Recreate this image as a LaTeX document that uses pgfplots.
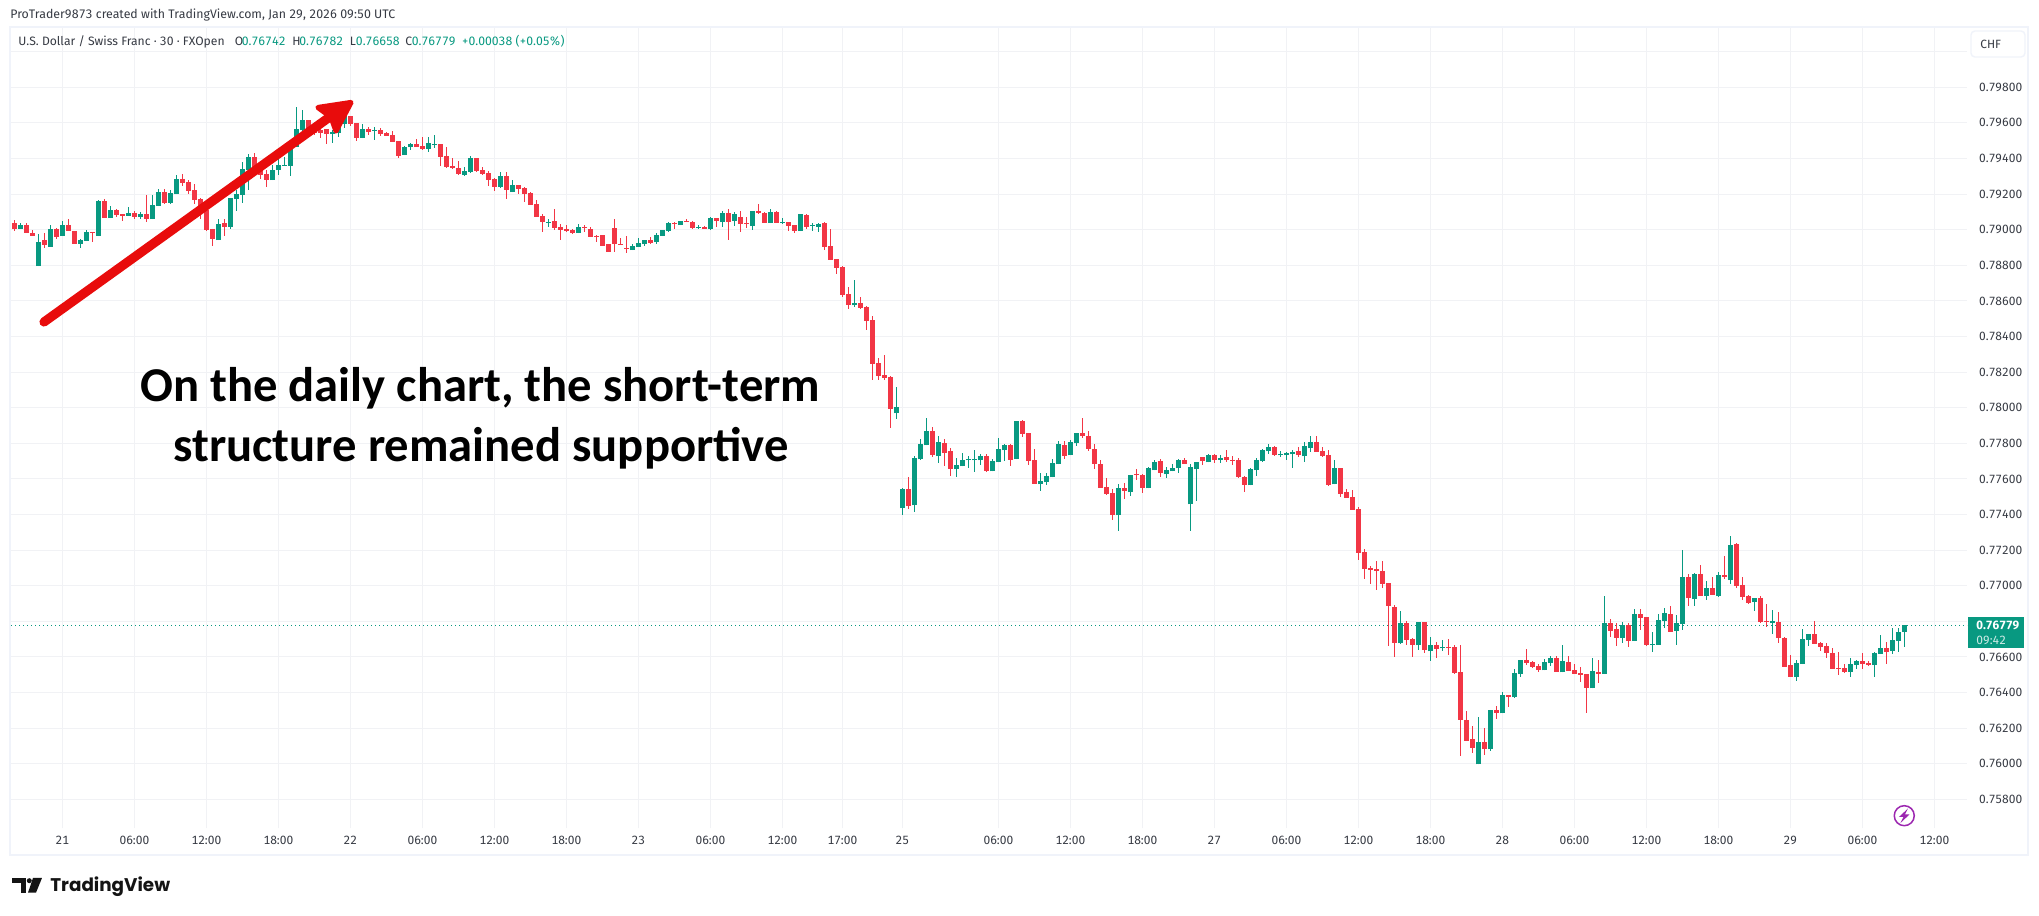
\documentclass[border=0pt]{standalone}
\usepackage{fontspec}
\usepackage{pgfplots}
\usepackage{pgfplotstable}
\pgfplotsset{compat=1.18}
\setmainfont{Fira Sans}[Numbers=Tabular]
\newfontfamily\titlefont{Carlito}
\newfontfamily\logofont{Poppins}
\definecolor{cup}{HTML}{089981}
\definecolor{cdn}{HTML}{F23645}
\definecolor{cgrid}{HTML}{F1F2F5}
\definecolor{cframe}{HTML}{F0F3FA}
\definecolor{ctext}{HTML}{131722}
\pgfplotstableread{
k o h l c
-8 0.79037 0.79054 0.78992 0.79004
-7 0.79004 0.79037 0.79004 0.79026
-6 0.79026 0.79037 0.78981 0.78981
-5 0.78981 0.78998 0.78964 0.78964
-4 0.78796 0.78976 0.78796 0.78931
-3 0.78942 0.78981 0.78897 0.78914
-2 0.78903 0.79026 0.78903 0.79004
-1 0.79004 0.79009 0.78948 0.78959
0 0.78964 0.79049 0.78964 0.79026
1 0.79026 0.79060 0.78992 0.78992
2 0.78992 0.78992 0.78919 0.78919
3 0.78919 0.78948 0.78897 0.78942
4 0.78936 0.78998 0.78936 0.78987
5 0.78987 0.78987 0.78931 0.78981
6 0.78964 0.79167 0.78964 0.79161
7 0.79161 0.79172 0.79065 0.79065
8 0.79065 0.79133 0.79065 0.79110
9 0.79110 0.79116 0.79071 0.79082
10 0.79088 0.79088 0.79049 0.79077
11 0.79077 0.79127 0.79077 0.79094
12 0.79094 0.79105 0.79060 0.79071
13 0.79071 0.79099 0.79060 0.79088
14 0.79088 0.79195 0.79043 0.79060
15 0.79060 0.79195 0.79060 0.79139
16 0.79133 0.79228 0.79133 0.79212
17 0.79212 0.79228 0.79144 0.79150
18 0.79150 0.79223 0.79144 0.79206
19 0.79200 0.79307 0.79200 0.79285
20 0.79285 0.79313 0.79245 0.79262
21 0.79268 0.79279 0.79200 0.79217
22 0.79223 0.79257 0.79144 0.79167
23 0.79172 0.79178 0.79060 0.79092
24 0.79110 0.79110 0.78992 0.78998
25 0.79004 0.79004 0.78908 0.78948
26 0.78942 0.79060 0.78942 0.79032
27 0.79037 0.79060 0.78964 0.79015
28 0.79015 0.79178 0.79004 0.79178
29 0.79172 0.79223 0.79105 0.79200
30 0.79195 0.79380 0.79150 0.79341
31 0.79335 0.79425 0.79223 0.79408
32 0.79408 0.79431 0.79316 0.79345
33 0.79345 0.79373 0.79285 0.79307
34 0.79313 0.79335 0.79240 0.79279
35 0.79279 0.79363 0.79279 0.79335
36 0.79335 0.79410 0.79307 0.79363
37 0.79358 0.79408 0.79358 0.79363
38 0.79358 0.79485 0.79301 0.79457
39 0.79466 0.79689 0.79466 0.79563
40 0.79560 0.79672 0.79541 0.79619
41 0.79616 0.79619 0.79541 0.79545
42 0.79569 0.79578 0.79531 0.79541
43 0.79560 0.79569 0.79515 0.79541
44 0.79563 0.79563 0.79481 0.79537
45 0.79537 0.79560 0.79486 0.79548
46 0.79545 0.79588 0.79522 0.79588
47 0.79593 0.79653 0.79569 0.79638
48 0.79638 0.79638 0.79582 0.79593
49 0.79599 0.79599 0.79498 0.79514
50 0.79514 0.79593 0.79514 0.79565
51 0.79565 0.79576 0.79531 0.79548
52 0.79554 0.79576 0.79503 0.79559
53 0.79559 0.79571 0.79526 0.79537
54 0.79543 0.79548 0.79526 0.79526
55 0.79531 0.79554 0.79492 0.79492
56 0.79498 0.79498 0.79402 0.79413
57 0.79419 0.79470 0.79419 0.79464
58 0.79464 0.79486 0.79447 0.79481
59 0.79481 0.79509 0.79464 0.79464
60 0.79470 0.79520 0.79447 0.79453
61 0.79453 0.79520 0.79436 0.79486
62 0.79475 0.79531 0.79458 0.79481
63 0.79481 0.79481 0.79357 0.79408
64 0.79413 0.79464 0.79346 0.79352
65 0.79357 0.79402 0.79340 0.79346
66 0.79346 0.79385 0.79307 0.79312
67 0.79307 0.79352 0.79301 0.79329
68 0.79323 0.79413 0.79318 0.79402
69 0.79402 0.79402 0.79323 0.79329
70 0.79335 0.79352 0.79307 0.79312
71 0.79318 0.79329 0.79245 0.79278
72 0.79284 0.79290 0.79217 0.79239
73 0.79239 0.79323 0.79233 0.79301
74 0.79301 0.79323 0.79172 0.79222
75 0.79211 0.79278 0.79211 0.79250
76 0.79250 0.79250 0.79200 0.79228
77 0.79233 0.79239 0.79155 0.79200
78 0.79205 0.79211 0.79138 0.79138
79 0.79144 0.79166 0.79071 0.79071
80 0.79076 0.79087 0.78986 0.79042
81 0.79037 0.79059 0.79014 0.79042
82 0.79048 0.79116 0.78998 0.79009
83 0.79014 0.79031 0.78941 0.78998
84 0.79003 0.79026 0.78986 0.78992
85 0.78998 0.79003 0.78975 0.78981
86 0.78981 0.79031 0.78981 0.79014
87 0.79014 0.79026 0.78986 0.79009
88 0.79003 0.79014 0.78958 0.78958
89 0.78964 0.78969 0.78930 0.78958
90 0.78969 0.78969 0.78908 0.78908
91 0.78919 0.78919 0.78874 0.78874
92 0.79009 0.79059 0.78874 0.78919
93 0.78919 0.78953 0.78913 0.78913
94 0.78896 0.78964 0.78868 0.78891
95 0.78885 0.78919 0.78885 0.78908
96 0.78902 0.78953 0.78902 0.78925
97 0.78919 0.78941 0.78908 0.78941
98 0.78941 0.78958 0.78919 0.78925
99 0.78930 0.78981 0.78919 0.78969
100 0.78964 0.78998 0.78964 0.78998
101 0.78992 0.79042 0.78986 0.79037
102 0.79037 0.79042 0.79003 0.79031
103 0.79026 0.79048 0.79026 0.79048
104 0.79048 0.79059 0.79042 0.79042
105 0.79042 0.79048 0.79003 0.79009
106 0.79009 0.79026 0.79003 0.79014
107 0.79014 0.79020 0.79003 0.79003
108 0.79003 0.79071 0.78998 0.79065
109 0.79065 0.79065 0.79014 0.79048
110 0.79042 0.79104 0.79014 0.79093
111 0.79093 0.79116 0.78941 0.79042
112 0.79048 0.79099 0.79020 0.79087
113 0.79071 0.79104 0.78986 0.79031
114 0.79037 0.79071 0.79009 0.79031
115 0.79020 0.79104 0.78998 0.79104
116 0.79104 0.79144 0.79087 0.79093
117 0.79093 0.79099 0.79037 0.79037
118 0.79037 0.79116 0.79037 0.79099
119 0.79099 0.79104 0.79037 0.79037
120 0.79037 0.79065 0.79031 0.79042
121 0.79042 0.79042 0.78992 0.79020
122 0.79026 0.79026 0.78981 0.78992
123 0.78992 0.79087 0.78992 0.79087
124 0.79082 0.79087 0.79003 0.79014
125 0.79020 0.79037 0.78992 0.79026
126 0.79014 0.79037 0.78986 0.79031
127 0.79036 0.79041 0.78884 0.78901
128 0.78907 0.79002 0.78828 0.78828
129 0.78833 0.78833 0.78749 0.78783
130 0.78789 0.78794 0.78620 0.78631
131 0.78637 0.78676 0.78553 0.78575
132 0.78575 0.78715 0.78564 0.78586
133 0.78586 0.78620 0.78553 0.78558
134 0.78564 0.78569 0.78435 0.78485
135 0.78491 0.78513 0.78154 0.78243
136 0.78249 0.78277 0.78154 0.78176
137 0.78182 0.78294 0.78154 0.78165
138 0.78170 0.78176 0.77884 0.77991
139 0.77968 0.78114 0.77934 0.78002
140 0.77434 0.77547 0.77395 0.77541
141 0.77541 0.77609 0.77429 0.77446
142 0.77451 0.77727 0.77412 0.77715
143 0.77710 0.77822 0.77704 0.77794
144 0.77788 0.77940 0.77788 0.77867
145 0.77867 0.77889 0.77721 0.77732
146 0.77727 0.77839 0.77687 0.77805
147 0.77800 0.77822 0.77670 0.77743
148 0.77755 0.77772 0.77614 0.77654
149 0.77654 0.77715 0.77609 0.77676
150 0.77670 0.77743 0.77670 0.77704
151 0.77704 0.77727 0.77659 0.77710
152 0.77704 0.77760 0.77637 0.77710
153 0.77704 0.77738 0.77676 0.77727
154 0.77727 0.77738 0.77637 0.77642
155 0.77642 0.77710 0.77642 0.77698
156 0.77693 0.77828 0.77693 0.77766
157 0.77760 0.77794 0.77698 0.77788
158 0.77788 0.77794 0.77670 0.77704
159 0.77710 0.77923 0.77710 0.77923
160 0.77923 0.77929 0.77833 0.77850
161 0.77856 0.77856 0.77676 0.77698
162 0.77704 0.77766 0.77569 0.77569
163 0.77569 0.77631 0.77530 0.77586
164 0.77580 0.77631 0.77564 0.77614
165 0.77609 0.77710 0.77609 0.77687
166 0.77682 0.77811 0.77682 0.77794
167 0.77788 0.77811 0.77710 0.77727
168 0.77732 0.77816 0.77732 0.77805
169 0.77800 0.77856 0.77783 0.77856
170 0.77856 0.77940 0.77828 0.77839
171 0.77839 0.77867 0.77755 0.77766
172 0.77766 0.77794 0.77654 0.77682
173 0.77682 0.77704 0.77547 0.77547
174 0.77552 0.77603 0.77507 0.77513
175 0.77519 0.77541 0.77367 0.77395
176 0.77395 0.77569 0.77305 0.77547
177 0.77547 0.77575 0.77485 0.77530
178 0.77524 0.77620 0.77502 0.77620
179 0.77625 0.77654 0.77592 0.77620
180 0.77620 0.77625 0.77519 0.77547
181 0.77547 0.77665 0.77547 0.77659
182 0.77648 0.77704 0.77648 0.77693
183 0.77698 0.77710 0.77609 0.77631
184 0.77625 0.77665 0.77603 0.77648
185 0.77642 0.77682 0.77642 0.77659
186 0.77659 0.77710 0.77631 0.77704
187 0.77704 0.77715 0.77682 0.77682
188 0.77457 0.77682 0.77305 0.77665
189 0.77654 0.77693 0.77474 0.77693
190 0.77721 0.77721 0.77676 0.77698
191 0.77693 0.77738 0.77693 0.77732
192 0.77732 0.77738 0.77687 0.77709
193 0.77709 0.77732 0.77687 0.77715
194 0.77721 0.77760 0.77693 0.77704
195 0.77709 0.77726 0.77676 0.77698
196 0.77704 0.77715 0.77603 0.77608
197 0.77608 0.77614 0.77524 0.77563
198 0.77563 0.77659 0.77563 0.77653
199 0.77648 0.77715 0.77614 0.77704
200 0.77698 0.77766 0.77693 0.77760
201 0.77754 0.77794 0.77738 0.77777
202 0.77777 0.77783 0.77726 0.77732
203 0.77732 0.77754 0.77721 0.77738
204 0.77732 0.77749 0.77704 0.77743
205 0.77738 0.77760 0.77659 0.77749
206 0.77754 0.77777 0.77721 0.77732
207 0.77726 0.77805 0.77693 0.77783
208 0.77771 0.77839 0.77749 0.77805
209 0.77805 0.77839 0.77749 0.77749
210 0.77754 0.77777 0.77721 0.77726
211 0.77732 0.77760 0.77558 0.77563
212 0.77569 0.77704 0.77569 0.77659
213 0.77659 0.77659 0.77496 0.77513
214 0.77524 0.77541 0.77490 0.77490
215 0.77496 0.77535 0.77423 0.77423
216 0.77429 0.77440 0.77142 0.77181
217 0.77187 0.77204 0.77036 0.77092
218 0.77097 0.77109 0.77007 0.77086
219 0.77092 0.77137 0.76974 0.77081
220 0.77081 0.77137 0.76985 0.77007
221 0.77013 0.77013 0.76659 0.76884
222 0.76878 0.76889 0.76597 0.76676
223 0.76676 0.76856 0.76670 0.76788
224 0.76788 0.76800 0.76665 0.76693
225 0.76698 0.76704 0.76597 0.76665
226 0.76665 0.76794 0.76637 0.76794
227 0.76794 0.76794 0.76620 0.76637
228 0.76631 0.76710 0.76575 0.76665
229 0.76665 0.76682 0.76592 0.76642
230 0.76648 0.76693 0.76631 0.76653
231 0.76653 0.76698 0.76609 0.76648
232 0.76653 0.76665 0.76502 0.76507
233 0.76513 0.76665 0.76041 0.76243
234 0.76243 0.76294 0.76125 0.76125
235 0.76137 0.76210 0.76058 0.76086
236 0.75996 0.76260 0.75996 0.76120
237 0.76120 0.76198 0.76047 0.76080
238 0.76080 0.76300 0.76069 0.76300
239 0.76300 0.76322 0.76249 0.76283
240 0.76283 0.76401 0.76283 0.76384
241 0.76384 0.76384 0.76316 0.76373
242 0.76373 0.76530 0.76367 0.76507
243 0.76502 0.76580 0.76485 0.76580
244 0.76580 0.76642 0.76552 0.76564
245 0.76569 0.76575 0.76536 0.76541
246 0.76547 0.76558 0.76513 0.76524
247 0.76524 0.76586 0.76524 0.76569
248 0.76564 0.76603 0.76547 0.76592
249 0.76592 0.76603 0.76513 0.76513
250 0.76513 0.76665 0.76513 0.76575
251 0.76569 0.76603 0.76519 0.76519
252 0.76524 0.76558 0.76502 0.76502
253 0.76507 0.76541 0.76457 0.76496
254 0.76502 0.76502 0.76283 0.76423
255 0.76423 0.76592 0.76423 0.76519
256 0.76513 0.76580 0.76451 0.76502
257 0.76504 0.76942 0.76504 0.76790
258 0.76790 0.76813 0.76712 0.76745
259 0.76757 0.76790 0.76661 0.76706
260 0.76706 0.76796 0.76678 0.76779
261 0.76779 0.76790 0.76655 0.76689
262 0.76689 0.76869 0.76689 0.76841
263 0.76841 0.76869 0.76751 0.76818
264 0.76824 0.76824 0.76661 0.76667
265 0.76667 0.76740 0.76627 0.76672
266 0.76667 0.76841 0.76667 0.76807
267 0.76801 0.76875 0.76762 0.76846
268 0.76841 0.76886 0.76740 0.76740
269 0.76745 0.76835 0.76667 0.76790
270 0.76785 0.77200 0.76751 0.77049
271 0.77049 0.77066 0.76886 0.76931
272 0.76925 0.77071 0.76886 0.77066
273 0.77066 0.77116 0.76942 0.76942
274 0.76942 0.77026 0.76919 0.76987
275 0.76987 0.77049 0.76948 0.76948
276 0.76942 0.77077 0.76936 0.77060
277 0.77060 0.77167 0.77037 0.77049
278 0.77032 0.77279 0.77009 0.77229
279 0.77234 0.77240 0.76987 0.76998
280 0.77004 0.77049 0.76919 0.76936
281 0.76942 0.76948 0.76897 0.76903
282 0.76908 0.76931 0.76858 0.76931
283 0.76931 0.76942 0.76790 0.76796
284 0.76801 0.76897 0.76768 0.76796
285 0.76790 0.76863 0.76728 0.76801
286 0.76796 0.76852 0.76678 0.76706
287 0.76706 0.76712 0.76543 0.76543
288 0.76554 0.76610 0.76487 0.76487
289 0.76487 0.76582 0.76464 0.76565
290 0.76560 0.76757 0.76560 0.76700
291 0.76695 0.76728 0.76661 0.76728
292 0.76728 0.76801 0.76672 0.76672
293 0.76678 0.76683 0.76633 0.76655
294 0.76661 0.76678 0.76594 0.76622
295 0.76622 0.76650 0.76532 0.76532
296 0.76537 0.76627 0.76498 0.76532
297 0.76537 0.76560 0.76509 0.76515
298 0.76515 0.76594 0.76487 0.76560
299 0.76554 0.76582 0.76532 0.76577
300 0.76577 0.76622 0.76532 0.76560
301 0.76565 0.76577 0.76549 0.76554
302 0.76554 0.76627 0.76487 0.76622
303 0.76616 0.76723 0.76616 0.76650
304 0.76650 0.76683 0.76560 0.76627
305 0.76633 0.76762 0.76616 0.76695
306 0.76689 0.76762 0.76627 0.76740
307 0.76742 0.76782 0.76658 0.76779
}\candles
\begin{document}
\begin{tikzpicture}
\path[use as bounding box,fill=white] (0,0) rectangle (1019.5bp,-458bp);
\begin{axis}[
  at={(5.5bp,-414bp)},anchor=south west,
  scale only axis,width=978bp,height=400bp,
  xmin=-8.5667,xmax=317.433,ymin=0.756388,ymax=0.801331,
  axis line style={draw=none},
  major tick length=0pt,
  grid=major,
  grid style={cgrid,line width=0.5bp},
  axis on top=false,
  xtick={0,12,24,36,48,60,72,84,96,108,120,130,140,156,168,180,192,204,216,228,240,252,264,276,288,300,312},
  xticklabels={21,06:00,12:00,18:00,22,06:00,12:00,18:00,23,06:00,12:00,17:00,25,06:00,12:00,18:00,27,06:00,12:00,18:00,28,06:00,12:00,18:00,29,06:00,12:00},
  ytick={0.758,0.760,0.762,0.764,0.766,0.770,0.772,0.774,0.776,0.778,0.780,0.782,0.784,0.786,0.788,0.790,0.792,0.794,0.796,0.798},
  extra y ticks={0.768,0.8},extra y tick labels={},
  yticklabel pos=right,
  scaled y ticks=false,
  y tick label style={/pgf/number format/fixed,/pgf/number format/fixed zerofill,/pgf/number format/precision=5,/pgf/number format/assume math mode=true,font=\fontsize{6pt}{7pt}\selectfont,text=ctext!85,anchor=west,xshift=2.6pt},
  x tick label style={font=\fontsize{6pt}{7pt}\selectfont,text=ctext!85,yshift=-0.5pt},
  clip=true,
]
\addplot[cup,line width=0.5bp,dash pattern=on 0.6bp off 1.4bp,forget plot] coordinates {(-8.5667,0.76779) (317.433,0.76779)};
\addplot[draw=none,mark=none,forget plot,restrict expr to domain={\thisrow{c}-\thisrow{o}}{0:1},
  error bars/.cd,y dir=both,y explicit,error mark=none,error bar style={draw=cup,line width=0.5bp}]
  table[x=k,y=o,y error plus expr={\thisrow{h}-\thisrow{o}},y error minus expr={\thisrow{o}-\thisrow{l}}] {\candles};
\addplot[draw=none,mark=none,forget plot,restrict expr to domain={\thisrow{o}-\thisrow{c}}{0:1},
  error bars/.cd,y dir=both,y explicit,error mark=none,error bar style={draw=cdn,line width=0.5bp}]
  table[x=k,y=o,y error plus expr={\thisrow{h}-\thisrow{o}},y error minus expr={\thisrow{o}-\thisrow{l}}] {\candles};
\addplot[draw=none,mark=none,forget plot,restrict expr to domain={\thisrow{c}-\thisrow{o}}{0:1},
  error bars/.cd,y dir=plus,y explicit,error mark=none,error bar style={draw=cup,line width=2.5bp}]
  table[x=k,y=o,y error plus expr={\thisrow{c}-\thisrow{o}}] {\candles};
\addplot[draw=none,mark=none,forget plot,restrict expr to domain={\thisrow{o}-\thisrow{c}}{0:1},
  error bars/.cd,y dir=minus,y explicit,error mark=none,error bar style={draw=cdn,line width=2.5bp}]
  table[x=k,y=o,y error minus expr={\thisrow{o}-\thisrow{c}}] {\candles};
\end{axis}
\begin{scope}[x=0.5bp,y=-0.5bp]
% frame
\draw[cframe,line width=1bp] (10.5,27) rectangle (2028,855);
% header
\node[anchor=west,inner sep=0,font=\fontsize{6.2pt}{7pt}\selectfont,text=ctext!85] at (10,15) {ProTrader9873 created with TradingView.com, Jan 29, 2026 09:50 UTC};
\tikzset{lg/.style={anchor=west,inner sep=0,font=\fontsize{6.1pt}{7pt}\selectfont}}
\node[lg,text=ctext!85] at (18,41.5) {U.S. Dollar / Swiss Franc · 30 · FXOpen};
\node[lg,text=ctext!85] at (234.6,41.5) {O};
\node[lg,text=cup] at (241.5,41.5) {0.76742};
\node[lg,text=ctext!85] at (292,41.5) {H};
\node[lg,text=cup] at (299,41.5) {0.76782};
\node[lg,text=ctext!85] at (349.5,41.5) {L};
\node[lg,text=cup] at (355.6,41.5) {0.76658};
\node[lg,text=ctext!85] at (405,41.5) {C};
\node[lg,text=cup] at (411.5,41.5) {0.76779};
\node[lg,text=cup] at (461.4,41.5) {+0.00038 (+0.05\%)};
% currency box
\draw[cframe,fill=white,line width=0.7bp,rounded corners=2bp] (1971,31) rectangle (2025,57);
\node[anchor=west,inner sep=0,font=\fontsize{6pt}{7pt}\selectfont,text=ctext!85] at (1980,44) {CHF};
% last price label
\fill[cup] (1968,617) rectangle (2023.7,647.7);
\node[anchor=west,inner sep=0,font=\bfseries\fontsize{6pt}{7pt}\selectfont,text=white] at (1976,625.5) {0.76779};
\node[anchor=west,inner sep=0,font=\fontsize{6pt}{7pt}\selectfont,text=white!80!cup] at (1976,640) {09:42};
% lightning icon
\draw[color={rgb,255:red,156;green,39;blue,176},line width=0.75bp] (1904.3,815.7) circle (10);
\fill[color={rgb,255:red,156;green,39;blue,176}] (1908,808.5) -- (1899,817) -- (1903.5,817) -- (1900.5,823) -- (1909.5,814.5) -- (1905,814.5) -- cycle;
% logo
\fill[black!92] (12,878) rectangle (26,883.2);
\fill[black!92] (20.7,878) rectangle (26,892.7);
\fill[black!92] (29.3,880.7) circle (2.5);
\fill[black!92] (33,878) -- (42,878) -- (36,892.7) -- (28,892.7) -- cycle;
\node[anchor=west,inner sep=0,font=\logofont\bfseries\fontsize{9.2pt}{11pt}\selectfont,text=black!92] at (50,886.5) {TradingView};
% arrow
\draw[color={rgb,255:red,232;green,12;blue,12},line width=4.6bp,line cap=round,line join=round] (44,322) -- (345,106);
\fill[color={rgb,255:red,232;green,12;blue,12},draw={rgb,255:red,232;green,12;blue,12},line width=2.6bp,line join=round] (318,107.5) -- (351,102.5) -- (336,131) -- (331,117) -- cycle;
% headline
\node[anchor=base,inner sep=0,font=\titlefont\bfseries\fontsize{24.4pt}{28pt}\selectfont] at (480.3,401.7) {On the daily chart, the short-term};
\node[anchor=base,inner sep=0,font=\titlefont\bfseries\fontsize{24.4pt}{28pt}\selectfont] at (481.3,461.7) {structure remained supportive};
\end{scope}
\end{tikzpicture}
\end{document}
